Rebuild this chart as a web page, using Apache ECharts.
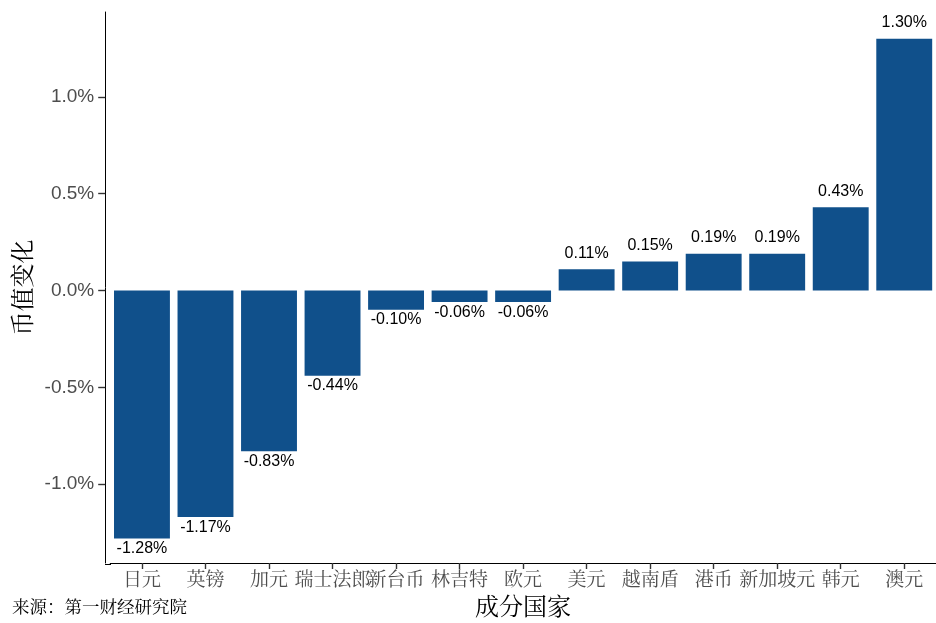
<!DOCTYPE html>
<html><head><meta charset="utf-8">
<script src="https://cdn.jsdelivr.net/npm/echarts@6/dist/echarts.min.js"></script>
<style>html,body{margin:0;padding:0;background:#fff}#c{width:936px;height:623px}</style>
</head><body><div id="c"></div>
<script>
const categories = ["日元","英镑","加元","瑞士法郎","新台币","林吉特","欧元","美元","越南盾","港币","新加坡元","韩元","澳元"];
const values = [-1.28,-1.17,-0.83,-0.44,-0.10,-0.06,-0.06,0.11,0.15,0.19,0.19,0.43,1.30];
const yTicks = [-1.0,-0.5,0.0,0.5,1.0];
const yName = "币值变化";
const xName = "成分国家";
const sourceText = "来源：第一财经研究院";

const cjk = '"Noto Serif CJK SC","Noto Sans CJK SC",serif';
const latin = '"Liberation Sans",Arial,sans-serif';
const chart = echarts.init(document.getElementById('c'), null, {renderer:'canvas'});
chart.setOption({
  animation:false,
  backgroundColor:'#fff',
  grid:{left:110.2, top:12, width:827.7, height:552, containLabel:false},
  xAxis:{
    type:'category', data:categories,
    axisLine:{onZero:false, lineStyle:{color:'#000', width:1}},
    axisTick:{show:true, alignWithLabel:true, length:6, lineStyle:{color:'#333', width:1.4}},
    axisLabel:{color:'#4d4d4d', fontSize:19, fontFamily:cjk, margin:6, interval:0},
    name:xName, nameLocation:'middle', nameGap:31,
    nameTextStyle:{color:'#000', fontSize:24, fontFamily:cjk}
  },
  yAxis:{
    type:'value', min:-1.407, max:1.438, offset:5,
    axisLine:{show:true, lineStyle:{color:'#000', width:1}},
    axisTick:{show:true, length:7, customValues:yTicks, lineStyle:{color:'#333', width:1.4}},
    axisLabel:{customValues:yTicks, color:'#4d4d4d', fontSize:19, fontFamily:latin, margin:11,
      formatter:v=>v.toFixed(1)+'%'},
    splitLine:{show:false},
    name:yName, nameLocation:'middle', nameGap:71,
    nameTextStyle:{color:'#000', fontSize:24, fontFamily:cjk}
  },
  graphic:[
    {type:'line', shape:{x1:105, y1:564.5, x2:111, y2:564.5}, style:{stroke:'#000', lineWidth:1}},
    {type:'text', left:12, top:598, style:{text:sourceText, fill:'#000', fontSize:17.5, fontFamily:cjk}}
  ],
  series:[{
    type:'bar', barWidth:'88%',
    itemStyle:{color:'#10508b'},
    label:{show:true, color:'#000', fontSize:16, fontFamily:latin,
      formatter:p=>p.value.toFixed(2)+'%'},
    data:values.map(v=>({value:v, label:{position: v>=0?'top':'bottom', distance: v>=0?8:2}}))
  }]
});
</script></body></html>
